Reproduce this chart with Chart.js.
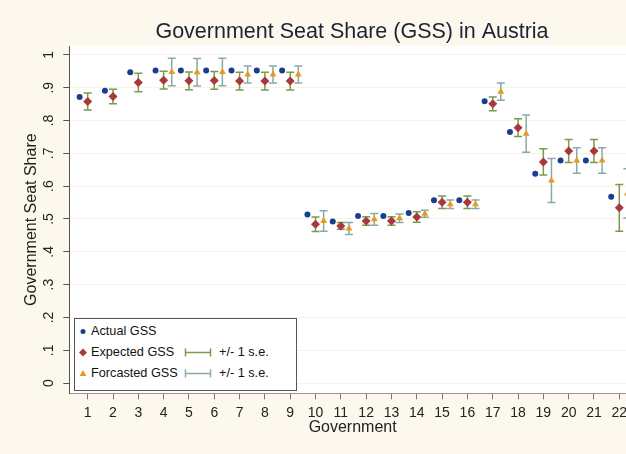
<!DOCTYPE html>
<html>
<head>
<meta charset="utf-8">
<script src="https://cdn.jsdelivr.net/npm/chart.js@4.4.1/dist/chart.umd.min.js"></script>
<style>
html, body { margin: 0; padding: 0; background: #fdf8ee; overflow: hidden; }
#wrap { position: relative; width: 704px; height: 454px; }
#legend { position: absolute; left: 74px; top: 318px; width: 221px; height: 71px; background: #fff; border: 1px solid #555;
  font: 12.7px "Liberation Sans", Arial, sans-serif; color: #111; }
#legend .row { position: absolute; left: 0; width: 100%; height: 21px; line-height: 21px; white-space: nowrap; }
#legend svg { position: absolute; top: 0; }
#legend .lbl { position: absolute; left: 16px; }
#legend .se { position: absolute; left: 144px; }
</style>
</head>
<body>
<div id="wrap">
  <canvas id="gssChart" width="704" height="454"></canvas>
  <div id="legend">
    <div class="row" style="top:2px">
      <svg width="10" height="21" style="left:3px"><circle cx="5" cy="10.5" r="2.5" fill="#1a3d8f"/></svg>
      <span class="lbl">Actual GSS</span>
    </div>
    <div class="row" style="top:23px">
      <svg width="10" height="21" style="left:3px"><path d="M5 6.5 L9 10.5 L5 14.5 L1 10.5 Z" fill="#a8383b"/></svg>
      <span class="lbl">Expected GSS</span>
      <svg width="28" height="21" style="left:109px"><path d="M1.5 10.5 H26.5 M1.5 6.5 V14.5 M26.5 6.5 V14.5" stroke="#7a9a4e" stroke-width="1.5" fill="none"/></svg>
      <span class="se">+/- 1 s.e.</span>
    </div>
    <div class="row" style="top:44px">
      <svg width="10" height="21" style="left:3px"><path d="M5 7 L8.5 13 L1.5 13 Z" fill="#e89a1f"/></svg>
      <span class="lbl">Forcasted GSS</span>
      <svg width="28" height="21" style="left:109px"><path d="M1.5 10.5 H26.5 M1.5 6.5 V14.5 M26.5 6.5 V14.5" stroke="#8aa9a9" stroke-width="1.5" fill="none"/></svg>
      <span class="se">+/- 1 s.e.</span>
    </div>
  </div>
</div>
<script>
// Government seat share, Austria
const govs = [1, 2, 3, 4, 5, 6, 7, 8, 9, 10, 11, 12, 13, 14, 15, 16, 17, 18, 19, 20, 21, 22];
const actualGss = [0.872, 0.891, 0.947, 0.952, 0.952, 0.952, 0.952, 0.952, 0.952, 0.514, 0.492, 0.509, 0.509, 0.518, 0.557, 0.557, 0.859, 0.765, 0.638, 0.678, 0.678, 0.568];
const expectedGss = [0.858, 0.873, 0.916, 0.923, 0.921, 0.922, 0.920, 0.920, 0.920, 0.484, 0.479, 0.494, 0.494, 0.506, 0.551, 0.551, 0.851, 0.778, 0.674, 0.707, 0.707, 0.534];
const expectedSe = [0.026, 0.022, 0.028, 0.027, 0.027, 0.027, 0.027, 0.027, 0.027, 0.022, 0.010, 0.013, 0.013, 0.016, 0.019, 0.019, 0.021, 0.027, 0.040, 0.035, 0.035, 0.071];
const forecastGss = [null, null, null, 0.948, 0.947, 0.948, 0.940, 0.940, 0.940, 0.494, 0.471, 0.499, 0.502, 0.516, 0.545, 0.545, 0.888, 0.760, 0.617, 0.678, 0.678, 0.578];
const forecastSe = [null, null, null, 0.042, 0.042, 0.042, 0.026, 0.026, 0.026, 0.031, 0.018, 0.018, 0.013, 0.011, 0.013, 0.013, 0.026, 0.057, 0.067, 0.039, 0.039, 0.075];
const yTicks = [0, 0.1, 0.2, 0.3, 0.4, 0.5, 0.6, 0.7, 0.8, 0.9, 1];
const yTickLabels = ['0', '.1', '.2', '.3', '.4', '.5', '.6', '.7', '.8', '.9', '1'];

const FONT = '"Liberation Sans", Arial, sans-serif';
const dodge = 0.32;

function points(values, shift, se) {
    const out = [];
    values.forEach((v, i) => {
        if (v === null) return;
        out.push({ x: govs[i] + shift, y: v, se: se ? se[i] : null });
    });
    return out;
}

const plotBackground = {
    id: 'plotBackground',
    beforeDraw(chart) {
        const { ctx, chartArea: a } = chart;
        ctx.save();
        ctx.fillStyle = '#ffffff';
        ctx.fillRect(a.left, a.top, a.right - a.left, a.bottom - a.top);
        ctx.restore();
    }
};

const errorBars = {
    id: 'errorBars',
    beforeDatasetsDraw(chart) {
        const { ctx, chartArea: a, scales: { x, y } } = chart;
        ctx.save();
        ctx.beginPath(); ctx.rect(a.left, a.top, a.right - a.left, a.bottom - a.top); ctx.clip();
        chart.data.datasets.forEach(ds => {
            if (!ds.barColor) return;
            ctx.strokeStyle = ds.barColor;
            ctx.lineWidth = 1.5;
            ds.data.forEach(p => {
                if (p.se === null) return;
                const px = x.getPixelForValue(p.x);
                const top = y.getPixelForValue(p.y + p.se);
                const bot = y.getPixelForValue(p.y - p.se);
                ctx.beginPath();
                ctx.moveTo(px, top); ctx.lineTo(px, bot);
                ctx.moveTo(px - 4, top); ctx.lineTo(px + 4, top);
                ctx.moveTo(px - 4, bot); ctx.lineTo(px + 4, bot);
                ctx.stroke();
            });
        });
        ctx.restore();
    }
};

// Stata-style vertical y tick labels
const yTickText = {
    id: 'yTickText',
    afterDraw(chart) {
        const { ctx, scales: { y } } = chart;
        ctx.save();
        ctx.font = '14px ' + FONT;
        ctx.fillStyle = '#222';
        ctx.textAlign = 'center';
        ctx.textBaseline = 'middle';
        yTicks.forEach((v, i) => {
            ctx.save();
            ctx.translate(y.right - 20, y.getPixelForValue(v));
            ctx.rotate(-Math.PI / 2);
            ctx.fillText(yTickLabels[i], 0, 0);
            ctx.restore();
        });
        ctx.restore();
    }
};

new Chart(document.getElementById('gssChart'), {
    type: 'scatter',
    data: {
        datasets: [
            { label: 'Actual GSS', data: points(actualGss, -dodge), pointStyle: 'circle', pointRadius: 3,
              backgroundColor: '#1a3d8f', borderColor: '#1a3d8f', borderWidth: 0 },
            { label: 'Expected GSS', data: points(expectedGss, 0, expectedSe), pointStyle: 'rectRot', pointRadius: 4.5,
              backgroundColor: '#a8383b', borderColor: '#a8383b', borderWidth: 0, barColor: '#7a9a4e' },
            { label: 'Forcasted GSS', data: points(forecastGss, dodge, forecastSe), pointStyle: 'triangle', pointRadius: 4,
              backgroundColor: '#e89a1f', borderColor: '#e89a1f', borderWidth: 0, barColor: '#8aa9a9' }
        ]
    },
    options: {
        responsive: false, animation: false,
        layout: { padding: 0 },
        plugins: {
            legend: { display: false },
            tooltip: { enabled: false },
            title: { display: true, text: 'Government Seat Share (GSS) in Austria', color: '#1b2433',
                     font: { family: FONT, size: 21.5, weight: 'normal' }, padding: { top: 18.8, bottom: 1.4 } }
        },
        scales: {
            x: {
                type: 'linear', min: 0.273, max: 22.66,
                afterBuildTicks: s => { s.ticks = govs.map(v => ({ value: v })); },
                afterFit: s => { s.height = 60.7; },
                ticks: { color: '#222', font: { family: FONT, size: 14 }, padding: 5, maxRotation: 0, autoSkip: false },
                grid: { drawOnChartArea: false, tickLength: 6, tickColor: '#777' },
                border: { color: '#999' },
                title: { display: true, text: 'Government', color: '#222', font: { family: FONT, size: 16 }, padding: { top: 0, bottom: 16.5 } }
            },
            y: {
                min: -0.031, max: 1.027,
                afterBuildTicks: s => { s.ticks = yTicks.map(v => ({ value: v })); },
                afterFit: s => { s.width = 69.3; },
                ticks: { display: false },
                grid: { color: '#fbf1df', tickLength: 6, tickColor: '#555' },
                border: { color: '#555' },
                title: { display: true, text: 'Government Seat Share', color: '#222', font: { family: FONT, size: 16 }, padding: { top: 22.4, bottom: 0 } }
            },
            // empty right margin: the original plot region runs past the cropped edge
            margin: {
                type: 'linear', position: 'right', display: true,
                afterFit: s => { s.width = 68; },
                ticks: { display: false }, grid: { display: false }, border: { display: false }
            }
        }
    },
    plugins: [plotBackground, errorBars, yTickText]
});
</script>
</body>
</html>
